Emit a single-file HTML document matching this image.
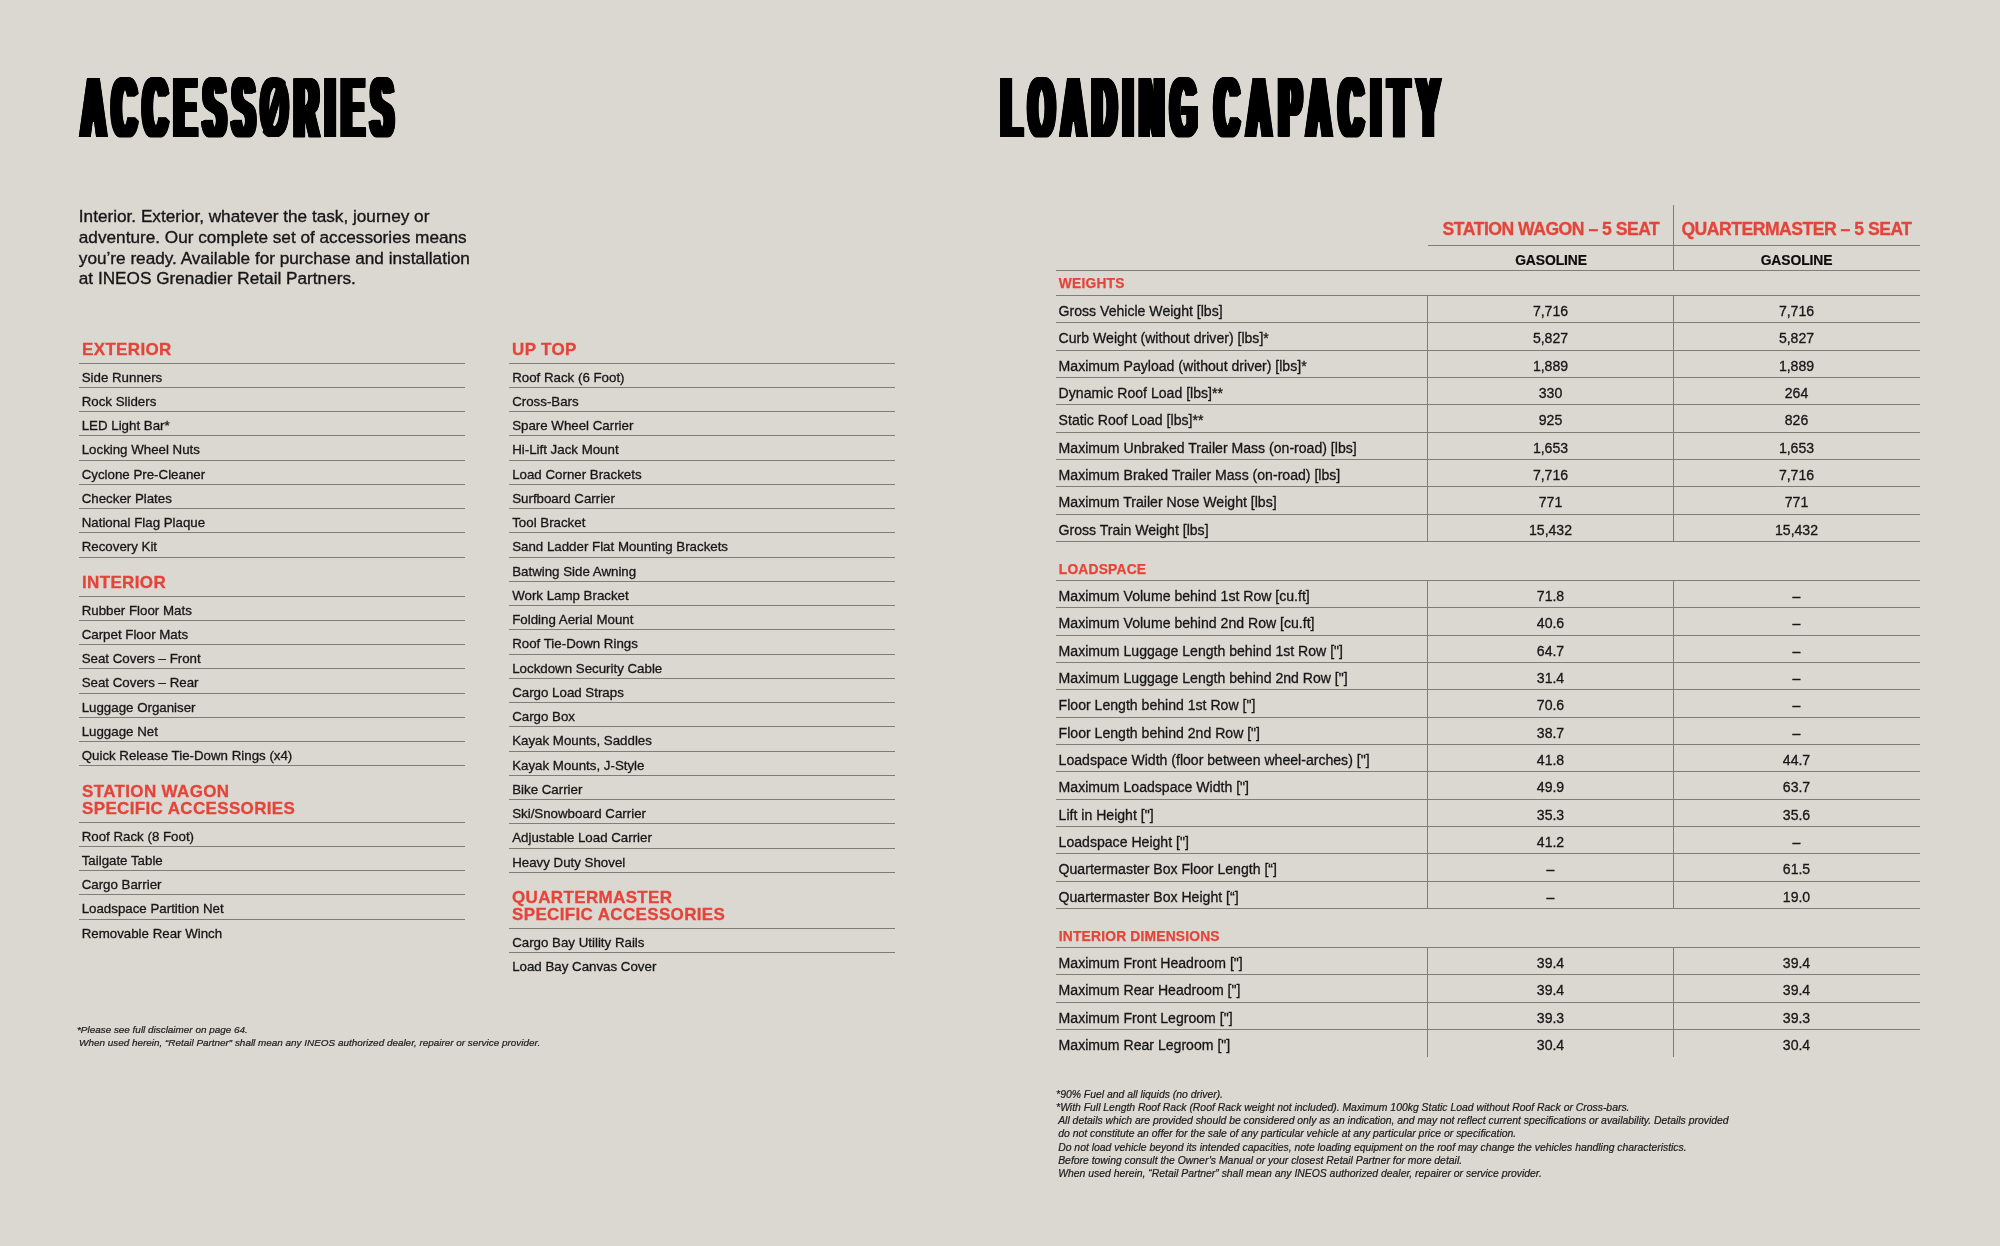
<!DOCTYPE html>
<html lang="en">
<head>
<meta charset="utf-8">
<title>Accessories / Loading Capacity</title>
<style>
*{box-sizing:border-box;margin:0;padding:0}
html,body{width:2000px;height:1246px;overflow:hidden;background:#dbd8d1}
body{position:relative;font-family:"Liberation Sans",sans-serif;color:#111}
#page{position:absolute;left:0;top:0;width:2000px;height:1246px;will-change:transform}
/* ---------- big condensed titles ---------- */
.title{position:absolute;top:58px;height:100px;line-height:100px;font-weight:700;font-size:85px;color:#000;white-space:nowrap;
  transform-origin:0 0;transform:scaleX(.385);clip-path:inset(18.5px 0 20.5px 0);letter-spacing:19px;padding:0 30px;
  text-shadow:1px 0 #000,-1px 0 #000,2px 0 #000,-2px 0 #000,3px 0 #000,-3px 0 #000,4px 0 #000,-4px 0 #000,5px 0 #000,-5px 0 #000,6px 0 #000,-6px 0 #000,7px 0 #000,-7px 0 #000,8px 0 #000,-8px 0 #000,9px 0 #000,-9px 0 #000,9.5px 0 #000,-9.5px 0 #000}
#t1{left:69.6px}
#t1 .o{display:inline-block;clip-path:inset(19px 15px 20px -4px round 32px/20px);transform:scaleX(1.12);transform-origin:33px 50%;text-shadow:1px 0 #000,-1px 0 #000,2px 0 #000,-2px 0 #000,3px 0 #000,-3px 0 #000,4px 0 #000,-4px 0 #000,5px 0 #000,-5px 0 #000,5.5px 0 #000,-5.5px 0 #000}
#t2{left:990px;word-spacing:-13px}
#t2 span{letter-spacing:22px}
/* ---------- intro ---------- */
.intro{position:absolute;left:78.8px;top:206.4px;width:420px;font-size:17.2px;line-height:20.6px;color:#161616;white-space:nowrap;-webkit-text-stroke:.35px #161616}
/* ---------- accessory lists ---------- */
.col{position:absolute;width:386px}
#c1{left:79px}
#c2{left:509px}
#c2 li{padding-left:3.2px}
.col h3{position:absolute;left:3px;font-size:17px;letter-spacing:.35px;line-height:17.3px;font-weight:700;color:#e4443a;white-space:nowrap;-webkit-text-stroke:.3px #e4443a}
.col ul{position:absolute;left:0;width:386px;list-style:none;border-top:1px solid #7f7d78}
.col li{height:24.25px;border-bottom:1px solid #7f7d78;padding-left:2.7px;font-size:13.3px;line-height:24.25px;color:#161616;white-space:nowrap;-webkit-text-stroke:.3px #161616}
.col li span{position:relative;top:2px}
.col li.last{border-bottom:none}
/* ---------- loading capacity table ---------- */
#tbl{position:absolute;left:0;top:0}
.hl{position:absolute;left:1056px;width:864px;height:1px;background:#7f7d79}
.vl{position:absolute;width:1px;background:#7f7d79}
.sec{position:absolute;left:1058.8px;letter-spacing:.2px;font-size:13.8px;font-weight:700;color:#e4443a;line-height:16px;white-space:nowrap;-webkit-text-stroke:.25px #e4443a}
.colh{position:absolute;font-size:17.6px;letter-spacing:-.5px;font-weight:700;color:#e4443a;line-height:20px;text-align:center;white-space:nowrap;-webkit-text-stroke:.3px #e4443a}
.gas{position:absolute;font-size:13.9px;letter-spacing:-.1px;font-weight:700;color:#0c0c0c;line-height:16px;text-align:center;white-space:nowrap;-webkit-text-stroke:.2px #0c0c0c}
.rows{position:absolute;left:1056px;width:864px}
.r{position:relative;height:27.33px;border-bottom:1px solid #7f7d79;font-size:14.08px;line-height:27.33px;color:#161616;white-space:nowrap;-webkit-text-stroke:.3px #161616}
.r.last{border-bottom:none}
.r b{font-weight:400;position:absolute;top:1.9px;text-align:center}
.r b.l{left:2.6px;text-align:left}
.r b.a{left:371.5px;width:246px}
.r b.b{left:617.5px;width:246px}
/* ---------- footnotes ---------- */
.fn{position:absolute;font-style:italic;color:#1a1a1a;white-space:nowrap;-webkit-text-stroke:.2px #1a1a1a}
#fn1{left:77px;top:1022.8px;font-size:9.92px;line-height:13.3px}
#fn2{left:1056.1px;top:1088px;font-size:10.4px;line-height:13.13px}
.fn i{padding-left:2.1px}
</style>
</head>
<body>
<div id="page">
<div class="title" id="t1">ACCESS<span class="o">Ø</span>RIES</div>
<div class="title" id="t2">LOADING <span>CAPACITY</span></div>

<div class="intro">Interior. Exterior, whatever the task, journey or<br>adventure. Our complete set of accessories means<br>you’re ready. Available for purchase and installation<br>at INEOS Grenadier Retail Partners.</div>

<div class="col" id="c1" style="top:0">
<h3 style="top:341px">EXTERIOR</h3>
<ul style="top:362.6px">
<li><span>Side Runners</span></li>
<li><span>Rock Sliders</span></li>
<li><span>LED Light Bar*</span></li>
<li><span>Locking Wheel Nuts</span></li>
<li><span>Cyclone Pre-Cleaner</span></li>
<li><span>Checker Plates</span></li>
<li><span>National Flag Plaque</span></li>
<li><span>Recovery Kit</span></li>
</ul>
<h3 style="top:574px">INTERIOR</h3>
<ul style="top:595.7px">
<li><span>Rubber Floor Mats</span></li>
<li><span>Carpet Floor Mats</span></li>
<li><span>Seat Covers – Front</span></li>
<li><span>Seat Covers – Rear</span></li>
<li><span>Luggage Organiser</span></li>
<li><span>Luggage Net</span></li>
<li><span>Quick Release Tie-Down Rings (x4)</span></li>
</ul>
<h3 style="top:782.7px">STATION WAGON<br>SPECIFIC ACCESSORIES</h3>
<ul style="top:821.6px">
<li><span>Roof Rack (8 Foot)</span></li>
<li><span>Tailgate Table</span></li>
<li><span>Cargo Barrier</span></li>
<li><span>Loadspace Partition Net</span></li>
<li class="last"><span>Removable Rear Winch</span></li>
</ul>
</div>
<div class="col" id="c2" style="top:0">
<h3 style="top:341px">UP TOP</h3>
<ul style="top:362.6px">
<li><span>Roof Rack (6 Foot)</span></li>
<li><span>Cross-Bars</span></li>
<li><span>Spare Wheel Carrier</span></li>
<li><span>Hi-Lift Jack Mount</span></li>
<li><span>Load Corner Brackets</span></li>
<li><span>Surfboard Carrier</span></li>
<li><span>Tool Bracket</span></li>
<li><span>Sand Ladder Flat Mounting Brackets</span></li>
<li><span>Batwing Side Awning</span></li>
<li><span>Work Lamp Bracket</span></li>
<li><span>Folding Aerial Mount</span></li>
<li><span>Roof Tie-Down Rings</span></li>
<li><span>Lockdown Security Cable</span></li>
<li><span>Cargo Load Straps</span></li>
<li><span>Cargo Box</span></li>
<li><span>Kayak Mounts, Saddles</span></li>
<li><span>Kayak Mounts, J-Style</span></li>
<li><span>Bike Carrier</span></li>
<li><span>Ski/Snowboard Carrier</span></li>
<li><span>Adjustable Load Carrier</span></li>
<li><span>Heavy Duty Shovel</span></li>
</ul>
<h3 style="top:889px">QUARTERMASTER<br>SPECIFIC ACCESSORIES</h3>
<ul style="top:927.8px">
<li><span>Cargo Bay Utility Rails</span></li>
<li class="last"><span>Load Bay Canvas Cover</span></li>
</ul>
</div>

<div id="tbl">
<div class="colh" style="left:1428px;width:246px;top:218.6px">STATION WAGON – 5 SEAT</div>
<div class="colh" style="left:1674px;width:245px;top:218.6px">QUARTERMASTER – 5 SEAT</div>
<div class="hl" style="top:245px;left:1428px;width:492px"></div>
<div class="gas" style="left:1428px;width:246px;top:251.5px">GASOLINE</div>
<div class="gas" style="left:1674px;width:245px;top:251.5px">GASOLINE</div>
<div class="hl" style="top:270px"></div>
<div class="sec" style="top:275.5px">WEIGHTS</div>
<div class="hl" style="top:295px"></div>
<div class="rows" style="top:296px">
<div class="r"><b class="l">Gross Vehicle Weight [lbs]</b><b class="a">7,716</b><b class="b">7,716</b></div>
<div class="r"><b class="l">Curb Weight (without driver) [lbs]*</b><b class="a">5,827</b><b class="b">5,827</b></div>
<div class="r"><b class="l">Maximum Payload (without driver) [lbs]*</b><b class="a">1,889</b><b class="b">1,889</b></div>
<div class="r"><b class="l">Dynamic Roof Load [lbs]**</b><b class="a">330</b><b class="b">264</b></div>
<div class="r"><b class="l">Static Roof Load [lbs]**</b><b class="a">925</b><b class="b">826</b></div>
<div class="r"><b class="l">Maximum Unbraked Trailer Mass (on-road) [lbs]</b><b class="a">1,653</b><b class="b">1,653</b></div>
<div class="r"><b class="l">Maximum Braked Trailer Mass (on-road) [lbs]</b><b class="a">7,716</b><b class="b">7,716</b></div>
<div class="r"><b class="l">Maximum Trailer Nose Weight [lbs]</b><b class="a">771</b><b class="b">771</b></div>
<div class="r"><b class="l">Gross Train Weight [lbs]</b><b class="a">15,432</b><b class="b">15,432</b></div>
</div>
<div class="sec" style="top:561.5px">LOADSPACE</div>
<div class="hl" style="top:580px"></div>
<div class="rows" style="top:581px">
<div class="r"><b class="l">Maximum Volume behind 1st Row [cu.ft]</b><b class="a">71.8</b><b class="b">–</b></div>
<div class="r"><b class="l">Maximum Volume behind 2nd Row [cu.ft]</b><b class="a">40.6</b><b class="b">–</b></div>
<div class="r"><b class="l">Maximum Luggage Length behind 1st Row [&quot;]</b><b class="a">64.7</b><b class="b">–</b></div>
<div class="r"><b class="l">Maximum Luggage Length behind 2nd Row [&quot;]</b><b class="a">31.4</b><b class="b">–</b></div>
<div class="r"><b class="l">Floor Length behind 1st Row [&quot;]</b><b class="a">70.6</b><b class="b">–</b></div>
<div class="r"><b class="l">Floor Length behind 2nd Row [&quot;]</b><b class="a">38.7</b><b class="b">–</b></div>
<div class="r"><b class="l">Loadspace Width (floor between wheel-arches) [&quot;]</b><b class="a">41.8</b><b class="b">44.7</b></div>
<div class="r"><b class="l">Maximum Loadspace Width [&quot;]</b><b class="a">49.9</b><b class="b">63.7</b></div>
<div class="r"><b class="l">Lift in Height [&quot;]</b><b class="a">35.3</b><b class="b">35.6</b></div>
<div class="r"><b class="l">Loadspace Height [&quot;]</b><b class="a">41.2</b><b class="b">–</b></div>
<div class="r"><b class="l">Quartermaster Box Floor Length [“]</b><b class="a">–</b><b class="b">61.5</b></div>
<div class="r"><b class="l">Quartermaster Box Height [“]</b><b class="a">–</b><b class="b">19.0</b></div>
</div>
<div class="sec" style="top:928.7px">INTERIOR DIMENSIONS</div>
<div class="hl" style="top:947px"></div>
<div class="rows" style="top:948px">
<div class="r"><b class="l">Maximum Front Headroom [&quot;]</b><b class="a">39.4</b><b class="b">39.4</b></div>
<div class="r"><b class="l">Maximum Rear Headroom [&quot;]</b><b class="a">39.4</b><b class="b">39.4</b></div>
<div class="r"><b class="l">Maximum Front Legroom [&quot;]</b><b class="a">39.3</b><b class="b">39.3</b></div>
<div class="r last"><b class="l">Maximum Rear Legroom [&quot;]</b><b class="a">30.4</b><b class="b">30.4</b></div>
</div>
<div class="vl" style="left:1673px;top:205px;height:65px"></div>
<div class="vl" style="left:1427px;top:295px;height:246.5px"></div>
<div class="vl" style="left:1673px;top:295px;height:246.5px"></div>
<div class="vl" style="left:1427px;top:580px;height:328.5px"></div>
<div class="vl" style="left:1673px;top:580px;height:328.5px"></div>
<div class="vl" style="left:1427px;top:947px;height:110px"></div>
<div class="vl" style="left:1673px;top:947px;height:110px"></div>
</div>

<div class="fn" id="fn1">*Please see full disclaimer on page 64.<br><i>When used herein, “Retail Partner” shall mean any INEOS authorized dealer, repairer or service provider.</i></div>
<div class="fn" id="fn2">*90% Fuel and all liquids (no driver).<br>*With Full Length Roof Rack (Roof Rack weight not included). Maximum 100kg Static Load without Roof Rack or Cross-bars.<br><i>All details which are provided should be considered only as an indication, and may not reflect current specifications or availability. Details provided</i><br><i>do not constitute an offer for the sale of any particular vehicle at any particular price or specification.</i><br><i>Do not load vehicle beyond its intended capacities, note loading equipment on the roof may change the vehicles handling characteristics.</i><br><i>Before towing consult the Owner’s Manual or your closest Retail Partner for more detail.</i><br><i>When used herein, “Retail Partner” shall mean any INEOS authorized dealer, repairer or service provider.</i></div>

</div>
</body>
</html>
